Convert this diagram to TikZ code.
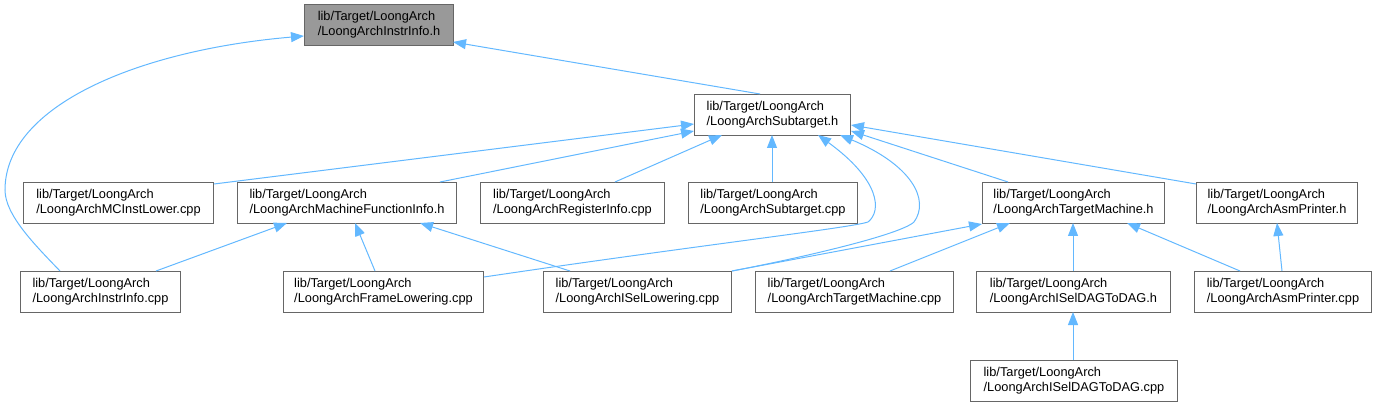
\documentclass[tikz,border=0pt]{standalone}
\usepackage{fontspec}
\setmainfont{Liberation Sans}
\usetikzlibrary{arrows.meta,calc}
\definecolor{edgeblue}{HTML}{63B8FF}
\definecolor{boxline}{HTML}{666666}
\definecolor{curfill}{HTML}{999999}
\begin{document}
\begin{tikzpicture}[x=1pt,y=-1pt,
  box/.style={draw=boxline, line width=1pt, minimum height=41pt, inner sep=0pt,
    align=left, anchor=north west, font=\fontsize{12.8}{15}\selectfont},
  dep/.style={draw=edgeblue, line width=1pt, -{Triangle[length=13pt,width=10pt]}}]
\useasboundingbox (0,0) rectangle (1376,406);
% nodes
\node[box, fill=curfill, minimum width=149pt] (A) at (304,4) {lib/Target/LoongArch\\/LoongArchInstrInfo.h};
\node[box, minimum width=156pt] (B) at (694,94) {lib/Target/LoongArch\\/LoongArchSubtarget.h};
\node[box, minimum width=190pt] (C) at (23,182) {lib/Target/LoongArch\\/LoongArchMCInstLower.cpp};
\node[box, minimum width=219pt] (D) at (237,182) {lib/Target/LoongArch\\/LoongArchMachineFunctionInfo.h};
\node[box, minimum width=184pt] (E) at (480,182) {lib/Target/LoongArch\\/LoongArchRegisterInfo.cpp};
\node[box, minimum width=169pt] (F) at (688,182) {lib/Target/LoongArch\\/LoongArchSubtarget.cpp};
\node[box, minimum width=182pt] (G) at (982,182) {lib/Target/LoongArch\\/LoongArchTargetMachine.h};
\node[box, minimum width=161pt] (H) at (1196,182) {lib/Target/LoongArch\\/LoongArchAsmPrinter.h};
\node[box, minimum width=160pt] (I) at (20,271) {lib/Target/LoongArch\\/LoongArchInstrInfo.cpp};
\node[box, minimum width=200pt] (J) at (283,271) {lib/Target/LoongArch\\/LoongArchFrameLowering.cpp};
\node[box, minimum width=188pt] (K) at (543,271) {lib/Target/LoongArch\\/LoongArchISelLowering.cpp};
\node[box, minimum width=198pt] (L) at (755,271) {lib/Target/LoongArch\\/LoongArchTargetMachine.cpp};
\node[box, minimum width=194pt] (M) at (976,271) {lib/Target/LoongArch\\/LoongArchISelDAGToDAG.h};
\node[box, minimum width=177pt] (N) at (1194,271) {lib/Target/LoongArch\\/LoongArchAsmPrinter.cpp};
\node[box, minimum width=207pt] (O) at (970,360) {lib/Target/LoongArch\\/LoongArchISelDAGToDAG.cpp};
% edges
\draw[dep] ($(I.north west)+(40,0)$) .. controls (35,245) and (5,215) .. (5,190)
  .. controls (5,105) and (140,50) .. ($(A.north west)+(0,32)$);
\draw[dep] ($(B.north west)+(66,0)$) -- ($(A.north west)+(149,38)$);
\draw[dep] ($(C.north east)+(0,2)$) -- ($(B.north west)+(0,30)$);
\draw[dep] ($(D.north west)+(203,0)$) -- ($(B.north west)+(0,37)$);
\draw[dep] ($(E.north west)+(135,0)$) -- ($(B.north west)+(28,41)$);
\draw[dep] ($(F.north west)+(84,0)$) -- ($(B.north west)+(78,41)$);
\draw[dep] ($(J.north east)+(0,6)$) .. controls (700,245) and (850,228) .. (868,222)
  .. controls (882,211) and (880,180) .. ($(B.north west)+(124,41)$);
\draw[dep] (K.north east) .. controls (800,258) and (900,235) .. (914,222)
  .. controls (930,200) and (912,165) .. ($(B.north west)+(146,41)$);
\draw[dep] ($(G.north west)+(26,0)$) -- ($(B.north east)+(0,37)$);
\draw[dep] ($(H.north west)+(0,2)$) -- ($(B.north east)+(0,31)$);
\draw[dep] (K.north east) -- (G.south west);
\draw[dep] ($(I.north east)+(-25,0)$) -- ($(D.north west)+(50,41)$);
\draw[dep] ($(J.north west)+(92,0)$) -- ($(D.north west)+(118,41)$);
\draw[dep] ($(K.north west)+(27,0)$) -- ($(D.north west)+(183,41)$);
\draw[dep] ($(L.north west)+(135,0)$) -- ($(G.north west)+(28,41)$);
\draw[dep] ($(M.north west)+(97,0)$) -- ($(G.north west)+(91,41)$);
\draw[dep] ($(N.north west)+(46,0)$) -- ($(G.north west)+(145,41)$);
\draw[dep] ($(N.north west)+(88,0)$) -- ($(H.north west)+(81,41)$);
\draw[dep] ($(O.north west)+(103,0)$) -- ($(M.north west)+(97,41)$);
\end{tikzpicture}
\end{document}
